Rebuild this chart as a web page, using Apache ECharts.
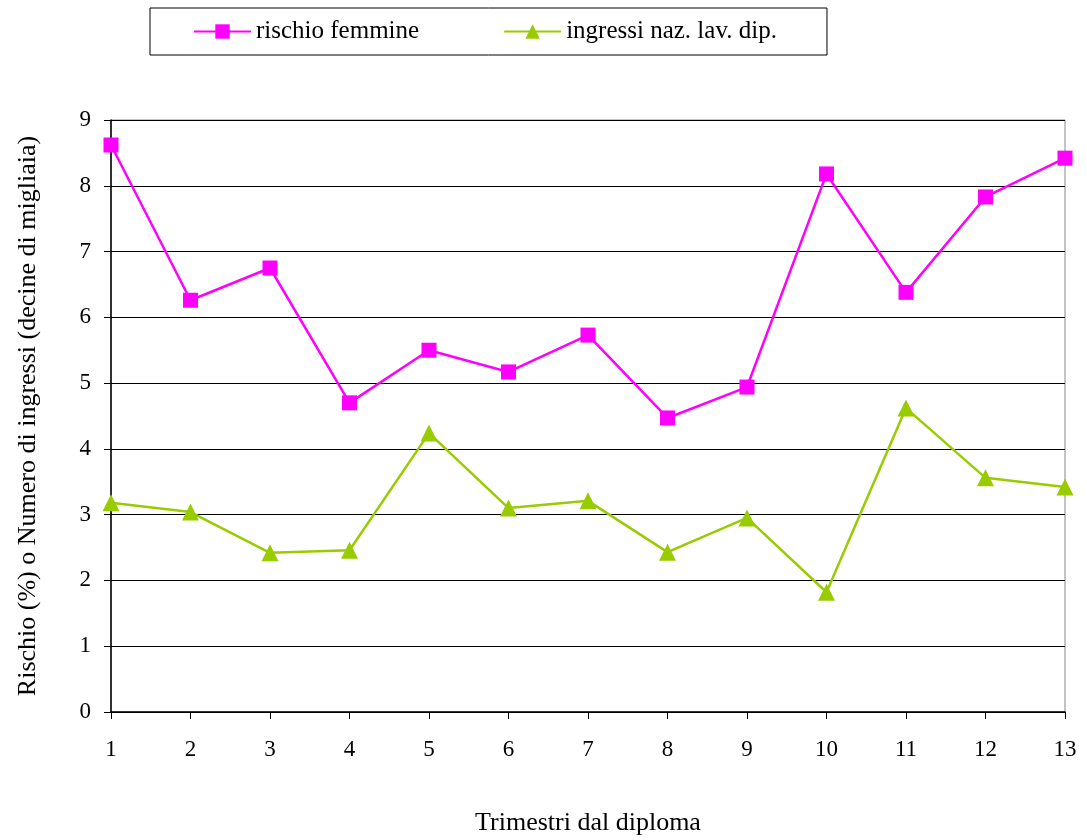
<!DOCTYPE html>
<html>
<head>
<meta charset="utf-8">
<script src="https://cdn.jsdelivr.net/npm/echarts@6/dist/echarts.min.js"></script>
<style>html,body{margin:0;padding:0;background:#fff}#c{width:1087px;height:840px}</style>
</head>
<body>
<div id="c"></div>
<script>
var categories = ['1','2','3','4','5','6','7','8','9','10','11','12','13'];
var rischioFemmine = [8.62, 6.26, 6.75, 4.70, 5.50, 5.17, 5.73, 4.47, 4.94, 8.18, 6.38, 7.83, 8.42];
var ingressiNaz = [3.18, 3.04, 2.42, 2.46, 4.24, 3.10, 3.21, 2.43, 2.95, 1.82, 4.62, 3.56, 3.42];
var seriesNames = ['rischio femmine', 'ingressi naz. lav. dip.'];
var xTitle = 'Trimestri dal diploma';
var yTitle = 'Rischio (%) o Numero di ingressi (decine di migliaia)';

var font = 'Liberation Serif';
var chart = echarts.init(document.getElementById('c'));
chart.setOption({
  animation: false,
  backgroundColor: '#fff',
  textStyle: {fontFamily: font},
  legend: {
    top: 8, left: 150,
    padding: [11, 50, 11, 43],
    itemGap: 84,
    itemWidth: 57, itemHeight: 18,
    borderColor: '#000', borderWidth: 1,
    textStyle: {fontFamily: font, fontSize: 25, color: '#000'},
    data: seriesNames
  },
  grid: {left: 111, right: 22, top: 120, bottom: 128, show: true, borderColor: '#888', borderWidth: 1, outerBoundsMode: 'none', containLabel: false},
  xAxis: {
    type: 'category', data: categories, boundaryGap: false,
    axisLine: {lineStyle: {color: '#000', width: 1.5}},
    axisTick: {show: true, length: 7, alignWithLabel: true, lineStyle: {color: '#000'}},
    axisLabel: {fontFamily: font, fontSize: 23, color: '#000', margin: 26},
    name: xTitle, nameLocation: 'middle', nameGap: 98,
    nameTextStyle: {fontFamily: font, fontSize: 26, color: '#000'}
  },
  yAxis: {
    type: 'value', min: 0, max: 9, interval: 1,
    axisLine: {show: true, lineStyle: {color: '#000', width: 1.5}},
    axisTick: {show: true, length: 7, lineStyle: {color: '#000'}},
    axisLabel: {fontFamily: font, fontSize: 23, color: '#000', margin: 20},
    splitLine: {lineStyle: {color: '#000', width: 1}},
    name: yTitle, nameLocation: 'middle', nameGap: 70,
    nameTextStyle: {fontFamily: font, fontSize: 26, color: '#000'}
  },
  series: [
    {
      name: seriesNames[0], type: 'line', data: rischioFemmine,
      symbol: 'rect', symbolSize: 15,
      lineStyle: {color: '#FF00FF', width: 2.5},
      itemStyle: {color: '#FF00FF'}
    },
    {
      name: seriesNames[1], type: 'line', data: ingressiNaz,
      symbol: 'triangle', symbolSize: 17,
      lineStyle: {color: '#99CC00', width: 2.5},
      itemStyle: {color: '#99CC00'}
    }
  ]
});
</script>
</body>
</html>
